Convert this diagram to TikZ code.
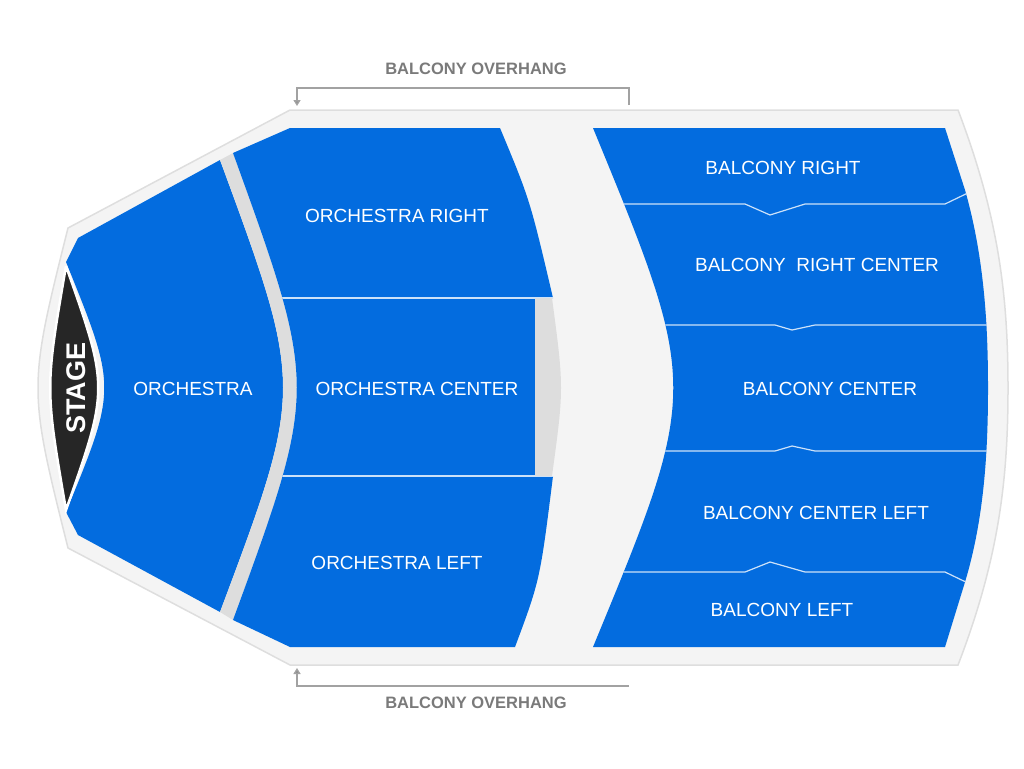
\documentclass[tikz,border=0pt]{standalone}
\usepackage{fontspec}
\setmainfont{Liberation Sans}
\usetikzlibrary{positioning,calc,arrows.meta}
\definecolor{seat}{HTML}{036CDF}
\definecolor{hall}{HTML}{F4F4F4}
\definecolor{hallline}{HTML}{DEDEDE}
\definecolor{aisle}{HTML}{DDDDDD}
\definecolor{stagec}{HTML}{262626}
\definecolor{note}{HTML}{7A7A7A}
\tikzset{
	lbl/.style={text=white,font=\fontsize{19}{19}\selectfont,inner sep=0pt},
	overhang/.style={text=note,font=\bfseries\fontsize{16.5}{16.5}\selectfont,inner sep=0pt},
	divider/.style={draw=white!80!seat,line width=1.2pt}
}
\begin{document}
\begin{tikzpicture}[x=1pt,y=-1pt]
				\useasboundingbox (0,0) rectangle (1024,768);
				
				%Salle
				\filldraw [fill=hall, draw=hallline, line width=1.5pt] (290,110) -- (958,110) .. controls (1000,220) and (1008,300) .. (1008,388) .. controls (1008,476) and (1000,556) .. (958,665) -- (290,665) -- (68,548) .. controls (28,388) .. (68,228) -- cycle;
				
				%Orchestra
				\fill [seat] (78,238) -- (220,160) .. controls (304,388) .. (220,612) -- (78,535) -- (66,512) .. controls (117,388) .. (66,262) -- cycle;
				\fill [aisle] (220,160) -- (233,153) .. controls (318,388) .. (233,620) -- (220,612) .. controls (304,388) .. (220,160);
				
				%Scene
				\filldraw [fill=stagec, draw=white, line width=2.5pt] (66,266) .. controls (109,388) .. (66,510) .. controls (45,388) .. (66,266);
				
				%Orchestra right / center / left
				\fill [seat] (233,153) -- (290,128) -- (500,128) .. controls (530,200) .. (553,298) -- (535,298) -- (535,476) -- (553,476) .. controls (540,580) .. (515,647) -- (290,647) -- (233,620) .. controls (318,388) .. (233,153);
				\begin{scope}
					\clip (233,153) -- (290,128) -- (500,128) .. controls (530,200) .. (553,298) -- (535,298) -- (535,476) -- (553,476) .. controls (540,580) .. (515,647) -- (290,647) -- (233,620) .. controls (318,388) .. (233,153);
					\draw [divider] (200,298) -- (560,298);
					\draw [divider] (200,476) -- (560,476);
				\end{scope}
				\fill [aisle] (535,298) -- (552,298) .. controls (564,388) .. (552,476) -- (535,476) -- cycle;
				
				%Balcony
				\fill [seat] (593,128) -- (945,128) -- (965,190) .. controls (985,260) and (988,330) .. (988,388) .. controls (988,446) and (985,516) .. (965,582) -- (945,647) -- (593,647) .. controls (700,388) .. (593,128);
				\begin{scope}
					\clip (593,128) -- (945,128) -- (965,190) .. controls (985,260) and (988,330) .. (988,388) .. controls (988,446) and (985,516) .. (965,582) -- (945,647) -- (593,647) .. controls (700,388) .. (593,128);
					\draw [divider] (580,204) -- (745,204) -- (770,215) -- (805,204) -- (945,204) -- (972,191);
					\draw [divider] (580,325) -- (775,325) -- (792,330) -- (815,325) -- (1000,325);
					\draw [divider] (580,451) -- (775,451) -- (792,446) -- (815,451) -- (1000,451);
					\draw [divider] (580,572) -- (745,572) -- (770,562) -- (805,572) -- (945,572) -- (972,585);
				\end{scope}
				
				%Textes
				\node[text=white,font=\bfseries\fontsize{27}{27}\selectfont,rotate=90,inner sep=0pt] (stage) at (76,388) {STAGE};
				\node[lbl] (orch) at (193,389) {ORCHESTRA};
				\node[lbl] (orchR) at (397,216) {ORCHESTRA RIGHT};
				\node[lbl] (orchC) at (417,389) {ORCHESTRA CENTER};
				\node[lbl] (orchL) at (397,563) {ORCHESTRA LEFT};
				\node[lbl] (balR) at (783,168) {BALCONY RIGHT};
				\node[lbl] (balRC) at (817,265) {BALCONY\ \ RIGHT CENTER};
				\node[lbl] (balC) at (830,389) {BALCONY CENTER};
				\node[lbl] (balCL) at (816,513) {BALCONY CENTER LEFT};
				\node[lbl] (balL) at (782,610) {BALCONY LEFT};
				
				%Balcony overhang
				\node[overhang] (ovT) at (476,69) {BALCONY OVERHANG};
				\node[overhang] (ovB) at (476,703) {BALCONY OVERHANG};
				\coordinate (tR) at (629,105);
				\coordinate (tL) at (297,106);
				\coordinate (bR) at (629,686);
				\coordinate (bL) at (297,668);
				\draw [note!70, line width=1.5pt, -{Triangle[length=6pt,width=7pt,fill=note]}] (tR) |- (297,88) -- (tL);
				\draw [note!70, line width=1.5pt, -{Triangle[length=6pt,width=7pt,fill=note]}] (bR) |- (297,686) -- (bL);
\end{tikzpicture}
\end{document}
